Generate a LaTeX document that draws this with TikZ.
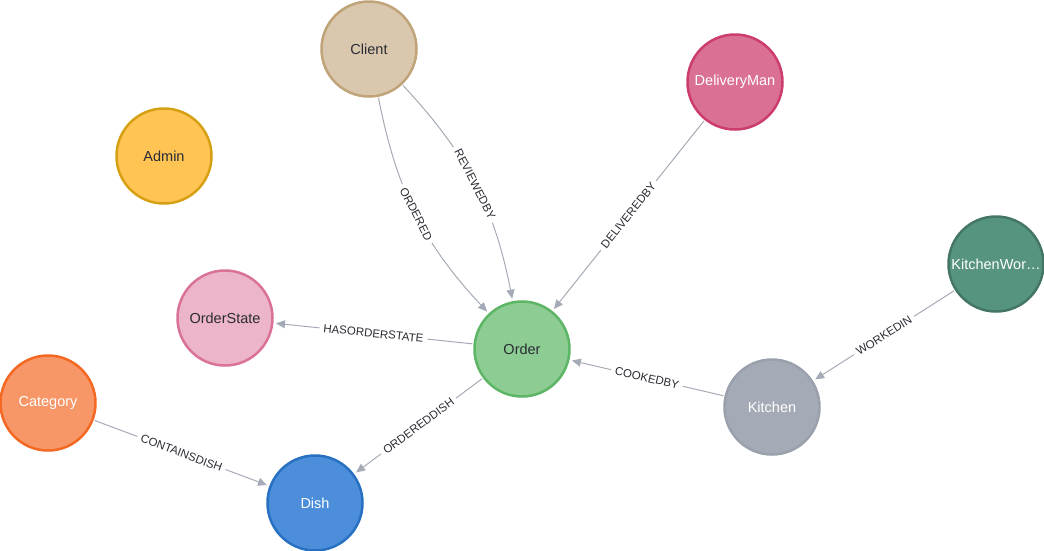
\documentclass[tikz,border=0pt]{standalone}
\usepackage{fontspec}
\setmainfont{Liberation Sans}
\usetikzlibrary{arrows.meta}

% node colours (fill / border)
\definecolor{clientF}{HTML}{D9C8AE}\definecolor{clientB}{HTML}{C0A378}
\definecolor{delivF}{HTML}{DA7194}\definecolor{delivB}{HTML}{CC3C6C}
\definecolor{adminF}{HTML}{FFC454}\definecolor{adminB}{HTML}{D7A013}
\definecolor{kwF}{HTML}{569480}\definecolor{kwB}{HTML}{447666}
\definecolor{stateF}{HTML}{ECB5C9}\definecolor{stateB}{HTML}{DA7298}
\definecolor{orderF}{HTML}{8DCC93}\definecolor{orderB}{HTML}{5DB665}
\definecolor{catF}{HTML}{F79767}\definecolor{catB}{HTML}{F36924}
\definecolor{kitF}{HTML}{A5ABB6}\definecolor{kitB}{HTML}{9AA1AC}
\definecolor{dishF}{HTML}{4C8EDA}\definecolor{dishB}{HTML}{2870C2}
\definecolor{edgeC}{HTML}{A5ABB6}
\definecolor{darktext}{HTML}{2A2C34}

\tikzset{
  gnode/.style={circle, minimum size=95pt, inner sep=0pt, line width=2.5pt,
                font=\fontsize{14.5}{16}\selectfont},
  darkcap/.style={text=darktext},
  lightcap/.style={text=white},
  rel/.style={draw=edgeC, line width=1pt,
              -{Triangle[length=9pt,width=8pt]},
              shorten >=2.5pt, shorten <=1pt},
  rlabel/.style={sloped, fill=white, inner xsep=4pt, inner ysep=1pt,
                 text=darktext, font=\fontsize{11.5}{12}\selectfont, pos=0.5},
}

\begin{document}
\begin{tikzpicture}[x=1pt, y=-1pt]
\useasboundingbox (0,0) rectangle (1044,550);

% entities
\node[gnode, darkcap,  fill=clientF, draw=clientB] (client)   at (369,49)  {Client};
\node[gnode, lightcap, fill=delivF,  draw=delivB]  (delivery) at (735,82)  {DeliveryMan};
\node[gnode, darkcap,  fill=adminF,  draw=adminB]  (admin)    at (164,156) {Admin};
\node[gnode, lightcap, fill=kwF,     draw=kwB]     (kworker)  at (996,264) {KitchenWor…};
\node[gnode, darkcap,  fill=stateF,  draw=stateB]  (ostate)   at (225,318) {OrderState};
\node[gnode, darkcap,  fill=orderF,  draw=orderB]  (order)    at (522,349) {Order};
\node[gnode, lightcap, fill=catF,    draw=catB]    (category) at (48,403)  {Category};
\node[gnode, lightcap, fill=kitF,    draw=kitB]    (kitchen)  at (772,407) {Kitchen};
\node[gnode, lightcap, fill=dishF,   draw=dishB]   (dish)     at (315,503) {Dish};

% relationships
\draw[rel] (client) to[bend right=16] node[rlabel] {ORDERED}     (order);
\draw[rel] (client) to[bend left=16]  node[rlabel] {REVIEWEDBY}  (order);
\draw[rel] (delivery) -- node[rlabel] {DELIVEREDBY}   (order);
\draw[rel] (kworker)  -- node[rlabel] {WORKEDIN}      (kitchen);
\draw[rel] (kitchen)  -- node[rlabel] {COOKEDBY}      (order);
\draw[rel] (order)    -- node[rlabel] {HASORDERSTATE} (ostate);
\draw[rel] (order)    -- node[rlabel] {ORDEREDDISH}   (dish);
\draw[rel] (category) -- node[rlabel] {CONTAINSDISH}  (dish);
\end{tikzpicture}
\end{document}
